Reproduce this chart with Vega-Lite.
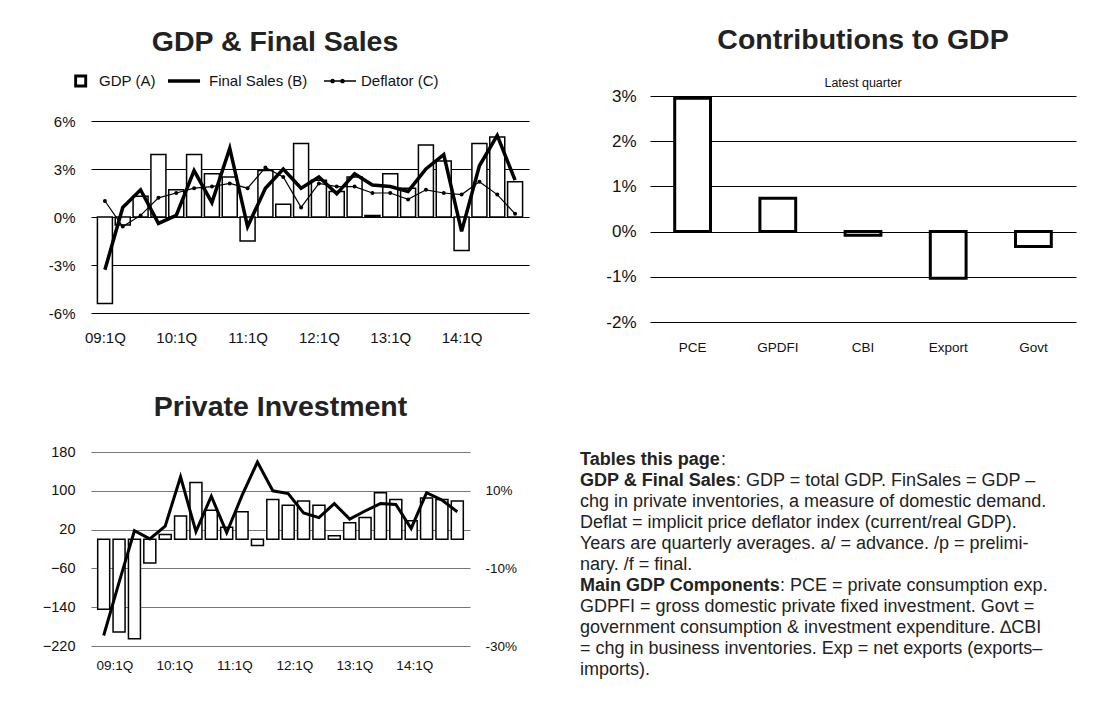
{
  "$schema": "https://vega.github.io/schema/vega-lite/v6.json",
  "background": "white",
  "padding": {"left": 42, "top": 26, "right": 5, "bottom": 5},
  "config": {
    "font": "Liberation Sans",
    "view": {"stroke": null},
    "axis": {"labelFont": "Liberation Sans", "labelColor": "#111", "domain": false, "ticks": false, "labelFlush": false, "labelOverlap": false, "labelBound": false},
    "title": {"font": "Liberation Sans", "color": "#222", "fontWeight": "bold", "fontSize": 28.5, "anchor": "middle"},
    "legend": {"labelFont": "Liberation Sans", "labelColor": "#111"}
  },
  "spacing": 38,
  "vconcat": [
    {
      "columns": 2,
      "spacing": 76,
      "align": "none",
      "concat": [
        {
          "width": 438,
          "height": 217,
          "title": {"text": "GDP & Final Sales", "offset": 40, "dx": -35},
          "data": {"values": [
            {"i": 0, "gdp": -5.4, "fs": -3.3, "defl": 1.0},
            {"i": 1, "gdp": -0.5, "fs": 0.6, "defl": -0.6},
            {"i": 2, "gdp": 1.3, "fs": 1.7, "defl": 0.1},
            {"i": 3, "gdp": 3.9, "fs": -0.4, "defl": 1.2},
            {"i": 4, "gdp": 1.7, "fs": 0.1, "defl": 1.5},
            {"i": 5, "gdp": 3.9, "fs": 2.9, "defl": 1.8},
            {"i": 6, "gdp": 2.7, "fs": 0.9, "defl": 1.9},
            {"i": 7, "gdp": 2.5, "fs": 4.3, "defl": 2.1},
            {"i": 8, "gdp": -1.5, "fs": -0.6, "defl": 1.8},
            {"i": 9, "gdp": 2.9, "fs": 1.8, "defl": 3.1},
            {"i": 10, "gdp": 0.8, "fs": 3.0, "defl": 2.5},
            {"i": 11, "gdp": 4.6, "fs": 1.8, "defl": 0.6},
            {"i": 12, "gdp": 2.3, "fs": 2.5, "defl": 2.1},
            {"i": 13, "gdp": 1.6, "fs": 1.45, "defl": 1.9},
            {"i": 14, "gdp": 2.5, "fs": 2.7, "defl": 1.9},
            {"i": 15, "gdp": 0.1, "fs": 2.0, "defl": 1.5},
            {"i": 16, "gdp": 2.7, "fs": 1.9, "defl": 1.5},
            {"i": 17, "gdp": 1.8, "fs": 1.6, "defl": 1.1},
            {"i": 18, "gdp": 4.5, "fs": 3.0, "defl": 1.7},
            {"i": 19, "gdp": 3.5, "fs": 3.9, "defl": 1.5},
            {"i": 20, "gdp": -2.1, "fs": -0.9, "defl": 1.4},
            {"i": 21, "gdp": 4.6, "fs": 3.2, "defl": 2.2},
            {"i": 22, "gdp": 5.0, "fs": 5.1, "defl": 1.4},
            {"i": 23, "gdp": 2.2, "fs": 2.3, "defl": 0.2}
          ]},
          "encoding": {
            "x": {"field": "i", "type": "quantitative",
              "scale": {"domain": [-0.5, 23.5], "nice": false, "zero": false},
              "axis": {"values": [0, 4, 8, 12, 16, 20],
                "labelExpr": "(datum.value < 4 ? '09' : '' + (9 + datum.value / 4)) + ':1Q'",
                "title": null, "grid": false, "labelFontSize": 15, "labelPadding": 17}}
          },
          "layer": [
            {
              "mark": {"type": "bar", "fill": "white", "stroke": "black", "strokeWidth": 1.5, "width": 15},
              "encoding": {
                "y": {"field": "gdp", "type": "quantitative",
                  "scale": {"domain": [-6, 7.5625], "nice": false},
                  "axis": {"values": [-6, -3, 0, 3, 6], "labelExpr": "datum.value + '%'", "title": null,
                    "grid": true, "gridColor": "black", "gridWidth": 1.2, "labelFontSize": 15, "labelPadding": 16}}
              }
            },
            {
              "mark": {"type": "line", "color": "black", "strokeWidth": 3.5},
              "encoding": {"y": {"field": "fs", "type": "quantitative"}}
            },
            {
              "mark": {"type": "line", "color": "black", "strokeWidth": 1.2, "point": {"filled": true, "size": 16, "color": "black"}},
              "encoding": {"y": {"field": "defl", "type": "quantitative"}}
            },
            {
              "transform": [{"fold": ["gdp", "fs", "defl"], "as": ["series", "val"]}],
              "mark": {"type": "point", "opacity": 0, "filled": true, "color": "black"},
              "encoding": {
                "y": {"field": "val", "type": "quantitative"},
                "shape": {"field": "series", "type": "nominal",
                  "scale": {"domain": ["gdp", "fs", "defl"],
                    "range": [
                      "M-0.1,-0.36H0.62V0.36H-0.1Z M0.06,-0.2V0.2H0.46V-0.2Z",
                      "M-1,-0.1H0.78V0.1H-1Z",
                      "M-0.78,-0.04H1V0.04H-0.78Z M-0.43,0A0.13,0.13 0 1,1 -0.17,0A0.13,0.13 0 1,1 -0.43,0Z M0.12,0A0.13,0.13 0 1,1 0.38,0A0.13,0.13 0 1,1 0.12,0Z"
                    ]},
                  "legend": {"title": null, "orient": "none", "legendX": -33, "legendY": -33, "direction": "horizontal",
                    "labelExpr": "datum.value == 'gdp' ? 'GDP (A)' : datum.value == 'fs' ? 'Final Sales (B)' : 'Deflator (C)'",
                    "symbolSize": 1296, "symbolFillColor": "black", "symbolStrokeColor": "black", "symbolStrokeWidth": 0, "symbolOpacity": 1,
                    "labelFontSize": 15, "labelOffset": 5, "columnPadding": 12}}
              }
            }
          ]
        },
        {
          "width": 426,
          "height": 226,
          "title": {"text": "Contributions to GDP", "subtitle": "Latest quarter", "subtitleFontSize": 12.5,
            "subtitleFont": "Liberation Sans", "subtitleColor": "#111", "subtitlePadding": 22, "offset": -2},
          "data": {"values": [
            {"comp": "PCE", "v": 2.95},
            {"comp": "GPDFI", "v": 0.74},
            {"comp": "CBI", "v": -0.08},
            {"comp": "Export", "v": -1.03},
            {"comp": "Govt", "v": -0.33}
          ]},
          "mark": {"type": "bar", "fill": "white", "stroke": "black", "strokeWidth": 3},
          "encoding": {
            "x": {"field": "comp", "type": "nominal", "sort": null,
              "scale": {"paddingInner": 0.58, "paddingOuter": 0.29},
              "axis": {"title": null, "labelAngle": 0, "labelFontSize": 13.5, "labelPadding": 18, "grid": false}},
            "y": {"field": "v", "type": "quantitative",
              "scale": {"domain": [-2, 3], "nice": false},
              "axis": {"values": [-2, -1, 0, 1, 2, 3], "labelExpr": "datum.value + '%'", "title": null,
                "grid": true, "gridColor": "black", "gridWidth": 1, "labelFontSize": 17, "labelPadding": 14}}
          }
        }
      ]
    },
    {
      "columns": 2,
      "spacing": 63,
      "align": "none",
      "concat": [
        {
          "width": 379,
          "height": 194,
          "title": {"text": "Private Investment", "offset": 23},
          "data": {"values": [
            {"i": 0, "inv": -144, "pct": -27.3},
            {"i": 1, "inv": -191, "pct": -13.6},
            {"i": 2, "inv": -205, "pct": -0.3},
            {"i": 3, "inv": -49, "pct": -2.4},
            {"i": 4, "inv": 10, "pct": 0.9},
            {"i": 5, "inv": 48, "pct": 13.6},
            {"i": 6, "inv": 117, "pct": -0.5},
            {"i": 7, "inv": 60, "pct": 8.6},
            {"i": 8, "inv": 25, "pct": -0.8},
            {"i": 9, "inv": 57, "pct": 8.8},
            {"i": 10, "inv": -13, "pct": 17.4},
            {"i": 11, "inv": 82, "pct": 10.0},
            {"i": 12, "inv": 70, "pct": 9.3},
            {"i": 13, "inv": 79, "pct": 4.3},
            {"i": 14, "inv": 70, "pct": 3.1},
            {"i": 15, "inv": 7.5, "pct": 6.7},
            {"i": 16, "inv": 34, "pct": 2.7},
            {"i": 17, "inv": 45, "pct": 4.8},
            {"i": 18, "inv": 96, "pct": 6.7},
            {"i": 19, "inv": 82, "pct": 6.5},
            {"i": 20, "inv": 38, "pct": 0.3},
            {"i": 21, "inv": 85, "pct": 9.5},
            {"i": 22, "inv": 82, "pct": 7.6},
            {"i": 23, "inv": 79, "pct": 4.6}
          ]},
          "encoding": {
            "x": {"field": "i", "type": "quantitative",
              "scale": {"domain": [-0.5, 23.5], "nice": false, "zero": false},
              "axis": {"values": [0.7, 4.6, 8.5, 12.4, 16.3, 20.2],
                "labelExpr": "datum.value < 2 ? '09:1Q' : (9 + floor((datum.value + 0.5) / 4)) + ':1Q'",
                "title": null, "grid": false, "labelFontSize": 13.5, "labelPadding": 12}}
          },
          "layer": [
            {
              "encoding": {
                "y": {"field": "inv", "type": "quantitative",
                  "scale": {"domain": [-220, 180], "nice": false},
                  "axis": {"values": [-220, -140, -60, 20, 100, 180], "title": null,
                    "grid": true, "gridColor": "#777", "gridWidth": 1, "labelFontSize": 14.5, "labelPadding": 16}}
              },
              "layer": [
                {"mark": {"type": "bar", "fill": "white", "stroke": "black", "strokeWidth": 1.5, "width": 12}},
                {"mark": {"type": "rule", "color": "black", "strokeWidth": 1}, "encoding": {"y": {"datum": 0}}}
              ]
            },
            {
              "mark": {"type": "line", "color": "black", "strokeWidth": 3},
              "encoding": {
                "y": {"field": "pct", "type": "quantitative",
                  "scale": {"domain": [-30, 20], "nice": false},
                  "axis": {"orient": "right", "values": [-30, -10, 10], "labelExpr": "datum.value + '%'", "title": null,
                    "grid": false, "labelFontSize": 13.5, "labelPadding": 15}}
              }
            }
          ],
          "resolve": {"scale": {"y": "independent"}, "axis": {"y": "independent"}}
        },
        {
          "width": 490,
          "height": 230,
          "data": {"values": [
            {"line": 1, "bold": "Tables this page", "rest": ":"},
            {"line": 2, "bold": "GDP & Final Sales", "rest": ":  GDP = total GDP.  FinSales = GDP –"},
            {"line": 3, "bold": "", "rest": "chg in private inventories, a measure of domestic demand."},
            {"line": 4, "bold": "", "rest": "Deflat = implicit price deflator index (current/real GDP)."},
            {"line": 5, "bold": "", "rest": "Years are quarterly averages.  a/ = advance.  /p = prelimi-"},
            {"line": 6, "bold": "", "rest": "nary.   /f = final."},
            {"line": 7, "bold": "Main GDP Components", "rest": ":  PCE = private consumption exp."},
            {"line": 8, "bold": "", "rest": "GDPFI = gross domestic private fixed investment.  Govt ="},
            {"line": 9, "bold": "", "rest": "government consumption & investment expenditure.  ∆CBI"},
            {"line": 10, "bold": "", "rest": "= chg in business inventories.  Exp = net exports (exports–"},
            {"line": 11, "bold": "", "rest": "imports)."}
          ]},
          "encoding": {
            "x": {"datum": 0, "type": "quantitative", "scale": {"domain": [0, 1]}, "axis": null},
            "y": {"field": "line", "type": "quantitative", "scale": {"domain": [0.619, 11.573], "reverse": true, "nice": false, "zero": false}, "axis": null}
          },
          "layer": [
            {"mark": {"type": "text", "align": "left", "baseline": "middle", "fontSize": 18, "fontWeight": "bold", "color": "#222"},
             "encoding": {"text": {"field": "bold"}}},
            {"transform": [{"filter": "datum.bold == ''"}],
             "mark": {"type": "text", "align": "left", "baseline": "middle", "fontSize": 18, "color": "#222"},
             "encoding": {"text": {"field": "rest"}}},
            {"transform": [{"filter": "datum.line == 1"}],
             "mark": {"type": "text", "align": "left", "baseline": "middle", "fontSize": 18, "color": "#222", "dx": 141},
             "encoding": {"text": {"field": "rest"}}},
            {"transform": [{"filter": "datum.line == 2"}],
             "mark": {"type": "text", "align": "left", "baseline": "middle", "fontSize": 18, "color": "#222", "dx": 156},
             "encoding": {"text": {"field": "rest"}}},
            {"transform": [{"filter": "datum.line == 7"}],
             "mark": {"type": "text", "align": "left", "baseline": "middle", "fontSize": 18, "color": "#222", "dx": 200},
             "encoding": {"text": {"field": "rest"}}}
          ]
        }
      ]
    }
  ]
}
